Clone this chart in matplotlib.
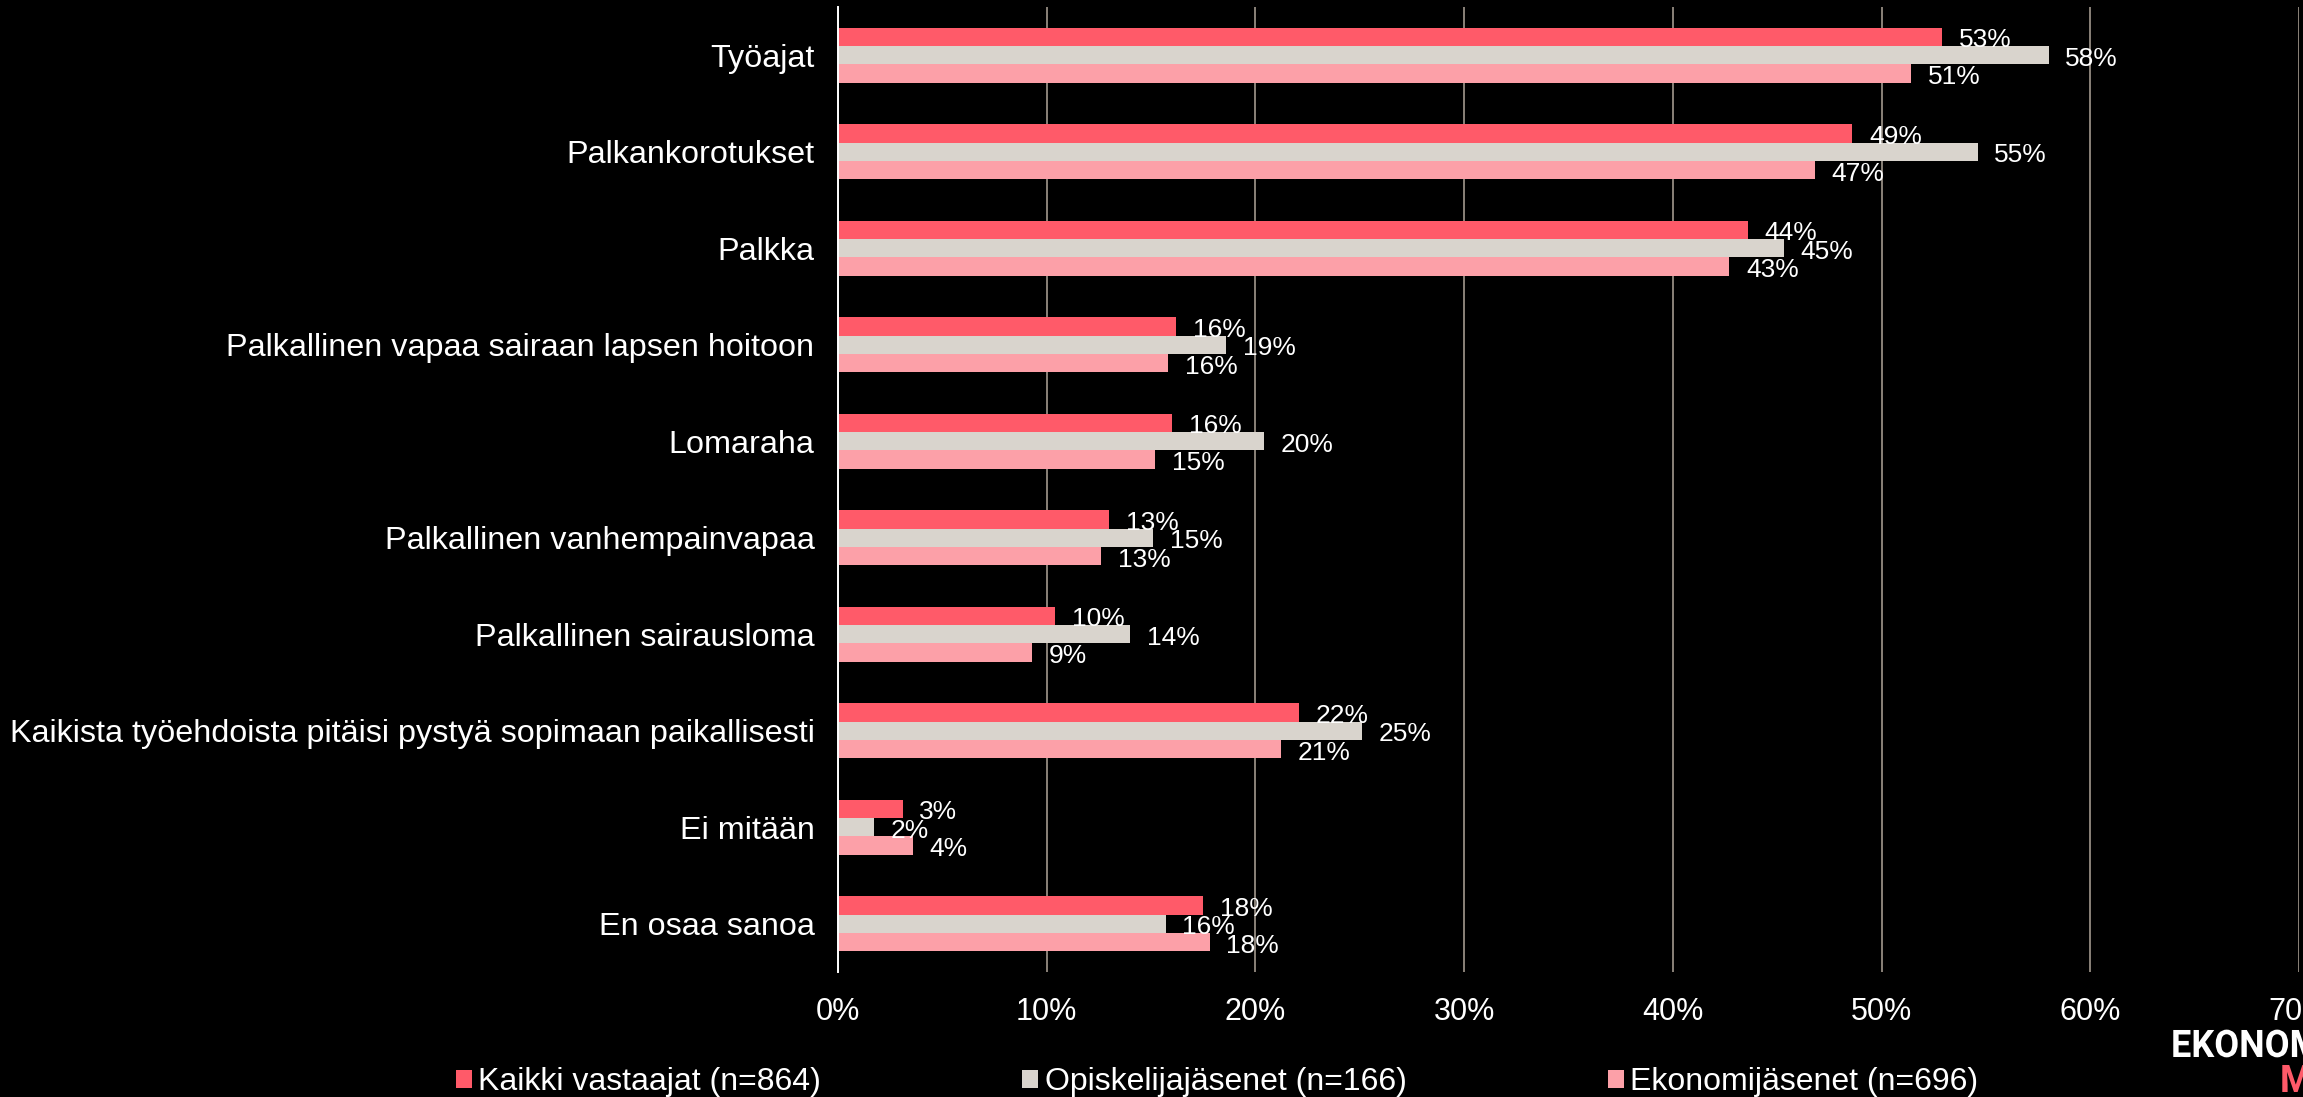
import matplotlib
matplotlib.use("Agg")
import matplotlib.pyplot as plt
import numpy as np
from matplotlib.font_manager import FontProperties
from matplotlib.patches import PathPatch
from matplotlib.textpath import TextPath
from matplotlib.transforms import Affine2D

categories = [
    "Työajat",
    "Palkankorotukset",
    "Palkka",
    "Palkallinen vapaa sairaan lapsen hoitoon",
    "Lomaraha",
    "Palkallinen vanhempainvapaa",
    "Palkallinen sairausloma",
    "Kaikista työehdoista pitäisi pystyä sopimaan paikallisesti",
    "Ei mitään",
    "En osaa sanoa",
]
kaikki = [52.9, 48.6, 43.6, 16.2, 16.0, 13.0, 10.4, 22.1, 3.1, 17.5]
opiskelijat = [58.0, 54.6, 45.3, 18.6, 20.4, 15.1, 14.0, 25.1, 1.7, 15.7]
ekonomit = [51.4, 46.8, 42.7, 15.8, 15.2, 12.6, 9.3, 21.2, 3.6, 17.8]
series_names = ["Kaikki vastaajat (n=864)", "Opiskelijajäsenet (n=166)", "Ekonomijäsenet (n=696)"]
xticks = [0, 10, 20, 30, 40, 50, 60, 70]

COLORS = ["#FF5A69", "#D9D4CD", "#FCA0A8"]
GRID = "#8A8279"
W, H = 2303, 1097

plt.rcParams["font.family"] = ["Liberation Sans", "DejaVu Sans"]

fig = plt.figure(figsize=(W / 100, H / 100), dpi=100)
fig.patch.set_facecolor("black")
ax = fig.add_axes([0.3639, 0.1140, 0.6344, 0.8796])
ax.set_facecolor("black")

y = np.arange(len(categories))
h = 0.19
for k, (vals, off) in enumerate(zip([kaikki, opiskelijat, ekonomit], [-h, 0, h])):
    bars = ax.barh(y + off, vals, height=h, color=COLORS[k], label=series_names[k], zorder=3)
    for b, v in zip(bars, vals):
        ax.annotate(f"{int(v + 0.5)}%", (v, b.get_y() + b.get_height() / 2),
                    xytext=(12, -2.5), textcoords="offset points",
                    ha="left", va="center", color="white", fontsize=19, zorder=4)

ax.set_xlim(0, 70)
ax.set_ylim(len(categories) - 0.5, -0.5)
ax.set_xticks(xticks)
ax.set_xticklabels([f"{t}%" for t in xticks], color="white", fontsize=22)
ax.set_yticks(y)
ax.set_yticklabels(categories, color="white", fontsize=23.3)
ax.tick_params(axis="x", length=0, pad=18)
ax.tick_params(axis="y", length=0, pad=17)
ax.xaxis.grid(True, color=GRID, linewidth=1.4, zorder=0)
for s in ["top", "right", "bottom"]:
    ax.spines[s].set_visible(False)
ax.spines["left"].set_color("white")
ax.spines["left"].set_linewidth(1.4)
ax.spines["left"].set_zorder(5)

leg = fig.legend(loc="center left", bbox_to_anchor=(456 / W, 1 - 1082 / H),
                 ncol=3, frameon=False, fontsize=23, handlelength=0.5, handleheight=0.5,
                 handletextpad=0.2, columnspacing=6.3, borderpad=0, borderaxespad=0)
for t in leg.get_texts():
    t.set_color("white")


# logo, condensed bold letters cut off by the right edge like in the original
def logo_text(s, x, baseline, color):
    fp = FontProperties(family="Roboto", weight="bold")
    path = TextPath((0, 0), s, size=38, prop=fp)
    tr = Affine2D().scale(0.95, 1.0).translate(x, H - baseline)
    fig.add_artist(PathPatch(path, facecolor=color, edgecolor="none", transform=tr))


logo_text("EKONOMI", 2171, 1057, "white")
logo_text("M", 2280, 1092, "#FF5A69")

fig.savefig("out.png", dpi=100, facecolor=fig.get_facecolor())
